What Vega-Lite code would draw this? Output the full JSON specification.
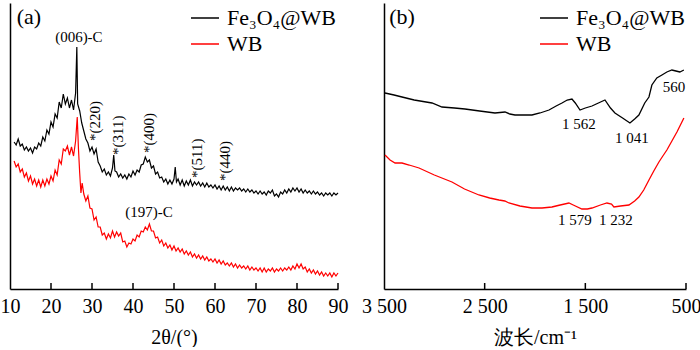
{
"$schema": "https://vega.github.io/schema/vega-lite/v6.json",
"background": "white",
"padding": {"left": 0, "top": 3, "right": 0, "bottom": 0},
"spacing": 46,
"bounds": "flush",
"config": {
  "view": {"stroke": null},
  "font": "Liberation Serif",
  "axis": {"domainColor": "black", "domainWidth": 1.5, "ticks": false, "labelFlush": false, "labelOverlap": false, "labelColor": "black", "titleColor": "black", "labelFont": "Liberation Serif", "titleFont": "Liberation Serif", "labelFontSize": 20, "titleFontSize": 20, "titleFontWeight": "normal", "grid": false},
  "legend": {"orient": "none", "symbolType": "stroke", "symbolSize": 784, "symbolStrokeWidth": 1.5, "labelFont": "Liberation Serif", "labelFontSize": 22, "labelColor": "black", "labelOffset": 7, "rowPadding": 0, "padding": 0, "title": null}
},
"resolve": {"scale": {"color": "independent"}, "legend": {"color": "independent"}},
"datasets": {
"xa_fe": [
{"t":11,"y":147},{"t":11.5,"y":144},{"t":12,"y":150},{"t":12.5,"y":143},{"t":13,"y":145},{"t":13.5,"y":139},{"t":14,"y":142},{"t":14.5,"y":138},{"t":15,"y":141},{"t":15.5,"y":136},{"t":16,"y":142},{"t":16.5,"y":140},{"t":17,"y":146},{"t":17.5,"y":143},{"t":18,"y":152},{"t":18.5,"y":148},{"t":19,"y":159},{"t":19.5,"y":155},{"t":20,"y":167},{"t":20.5,"y":162},{"t":21,"y":175},{"t":21.5,"y":171},{"t":22,"y":187},{"t":22.5,"y":181},{"t":23,"y":195},{"t":23.5,"y":185},{"t":24,"y":191},{"t":24.5,"y":181},{"t":25,"y":189},{"t":25.5,"y":179},{"t":26,"y":196},{"t":26.3,"y":242},{"t":26.5,"y":185},{"t":27,"y":178},{"t":27.5,"y":166},{"t":28,"y":158},{"t":28.5,"y":150},{"t":29,"y":146},{"t":29.5,"y":138},{"t":30,"y":142},{"t":30.5,"y":135},{"t":31,"y":140},{"t":31.5,"y":127},{"t":32,"y":123},{"t":32.5,"y":117},{"t":33,"y":120},{"t":33.5,"y":114},{"t":34,"y":117},{"t":34.5,"y":113},{"t":35,"y":121},{"t":35.3,"y":134},{"t":35.6,"y":118},{"t":36,"y":117},{"t":36.5,"y":112},{"t":37,"y":115},{"t":37.5,"y":111},{"t":38,"y":114},{"t":38.5,"y":110},{"t":39,"y":115},{"t":39.5,"y":112},{"t":40,"y":118},{"t":40.5,"y":114},{"t":41,"y":119},{"t":41.5,"y":117},{"t":42,"y":124},{"t":42.5,"y":125},{"t":43,"y":132},{"t":43.5,"y":127},{"t":44,"y":129},{"t":44.5,"y":121},{"t":45,"y":123},{"t":45.5,"y":115},{"t":46,"y":117},{"t":46.5,"y":111},{"t":47,"y":112},{"t":47.5,"y":107},{"t":48,"y":110},{"t":48.5,"y":105},{"t":49,"y":109},{"t":49.5,"y":105},{"t":50,"y":110},{"t":50.3,"y":122},{"t":50.6,"y":107},{"t":51,"y":110},{"t":51.5,"y":104},{"t":52,"y":109},{"t":52.5,"y":103},{"t":53,"y":108},{"t":53.5,"y":104},{"t":54,"y":109},{"t":54.5,"y":103},{"t":55,"y":107},{"t":55.5,"y":104},{"t":56,"y":107},{"t":56.5,"y":103},{"t":57,"y":106},{"t":57.5,"y":102},{"t":58,"y":106},{"t":58.5,"y":102},{"t":59,"y":104},{"t":59.5,"y":101},{"t":60,"y":104},{"t":60.5,"y":100},{"t":61,"y":103},{"t":61.5,"y":99},{"t":62,"y":103},{"t":62.5,"y":99},{"t":63,"y":102},{"t":63.5,"y":98},{"t":64,"y":102},{"t":64.5,"y":98},{"t":65,"y":101},{"t":65.5,"y":99},{"t":66,"y":101},{"t":66.5,"y":98},{"t":67,"y":100},{"t":67.5,"y":97},{"t":68,"y":100},{"t":68.5,"y":97},{"t":69,"y":99},{"t":69.5,"y":96},{"t":70,"y":98},{"t":70.5,"y":95},{"t":71,"y":98},{"t":71.5,"y":95},{"t":72,"y":97},{"t":72.5,"y":94},{"t":73,"y":98},{"t":73.5,"y":96},{"t":74,"y":99},{"t":74.5,"y":93},{"t":75,"y":95},{"t":75.5,"y":92},{"t":76,"y":97},{"t":76.5,"y":95},{"t":77,"y":99},{"t":77.5,"y":96},{"t":78,"y":100},{"t":78.5,"y":97},{"t":79,"y":101},{"t":79.5,"y":98},{"t":80,"y":101},{"t":80.5,"y":97},{"t":81,"y":100},{"t":81.5,"y":96},{"t":82,"y":99},{"t":82.5,"y":96},{"t":83,"y":98},{"t":83.5,"y":95},{"t":84,"y":98},{"t":84.5,"y":95},{"t":85,"y":97},{"t":85.5,"y":94},{"t":86,"y":96},{"t":86.5,"y":93},{"t":87,"y":96},{"t":87.5,"y":94},{"t":88,"y":96},{"t":88.5,"y":93},{"t":89,"y":96},{"t":89.5,"y":94},{"t":90,"y":96}
],
"xa_wb": [
{"t":11,"y":128},{"t":11.5,"y":122},{"t":12,"y":125},{"t":12.5,"y":117},{"t":13,"y":120},{"t":13.5,"y":112},{"t":14,"y":116},{"t":14.5,"y":108},{"t":15,"y":113},{"t":15.5,"y":105},{"t":16,"y":110},{"t":16.5,"y":103},{"t":17,"y":109},{"t":17.5,"y":102},{"t":18,"y":109},{"t":18.5,"y":103},{"t":19,"y":110},{"t":19.5,"y":105},{"t":20,"y":113},{"t":20.5,"y":108},{"t":21,"y":119},{"t":21.5,"y":114},{"t":22,"y":129},{"t":22.5,"y":125},{"t":23,"y":140},{"t":23.5,"y":138},{"t":24,"y":143},{"t":24.5,"y":134},{"t":25,"y":142},{"t":25.5,"y":133},{"t":26,"y":148},{"t":26.4,"y":172},{"t":26.7,"y":140},{"t":27,"y":116},{"t":27.3,"y":96},{"t":27.6,"y":106},{"t":28,"y":95},{"t":28.5,"y":88},{"t":29,"y":93},{"t":29.5,"y":81},{"t":30,"y":80},{"t":30.5,"y":69},{"t":31,"y":72},{"t":31.5,"y":62},{"t":32,"y":62},{"t":32.5,"y":54},{"t":33,"y":56},{"t":33.5,"y":50},{"t":34,"y":55},{"t":34.5,"y":51},{"t":35,"y":58},{"t":35.5,"y":52},{"t":36,"y":57},{"t":36.5,"y":53},{"t":37,"y":56},{"t":37.5,"y":47},{"t":38,"y":48},{"t":38.5,"y":42},{"t":39,"y":46},{"t":39.5,"y":45},{"t":40,"y":50},{"t":40.5,"y":48},{"t":41,"y":54},{"t":41.5,"y":52},{"t":42,"y":58},{"t":42.5,"y":57},{"t":43,"y":62},{"t":43.5,"y":59},{"t":44,"y":65},{"t":44.5,"y":58},{"t":45,"y":58},{"t":45.5,"y":51},{"t":46,"y":52},{"t":46.5,"y":46},{"t":47,"y":49},{"t":47.5,"y":43},{"t":48,"y":46},{"t":48.5,"y":41},{"t":49,"y":44},{"t":49.5,"y":39},{"t":50,"y":43},{"t":50.5,"y":38},{"t":51,"y":41},{"t":51.5,"y":37},{"t":52,"y":40},{"t":52.5,"y":35},{"t":53,"y":38},{"t":53.5,"y":34},{"t":54,"y":37},{"t":54.5,"y":32},{"t":55,"y":35},{"t":55.5,"y":31},{"t":56,"y":34},{"t":56.5,"y":30},{"t":57,"y":33},{"t":57.5,"y":29},{"t":58,"y":32},{"t":58.5,"y":28},{"t":59,"y":30},{"t":59.5,"y":27},{"t":60,"y":30},{"t":60.5,"y":26},{"t":61,"y":29},{"t":61.5,"y":25},{"t":62,"y":28},{"t":62.5,"y":24},{"t":63,"y":26},{"t":63.5,"y":23},{"t":64,"y":26},{"t":64.5,"y":22},{"t":65,"y":25},{"t":65.5,"y":21},{"t":66,"y":24},{"t":66.5,"y":21},{"t":67,"y":23},{"t":67.5,"y":20},{"t":68,"y":23},{"t":68.5,"y":19},{"t":69,"y":22},{"t":69.5,"y":19},{"t":70,"y":21},{"t":70.5,"y":18},{"t":71,"y":21},{"t":71.5,"y":17},{"t":72,"y":21},{"t":72.5,"y":17},{"t":73,"y":20},{"t":73.5,"y":18},{"t":74,"y":21},{"t":74.5,"y":17},{"t":75,"y":20},{"t":75.5,"y":18},{"t":76,"y":21},{"t":76.5,"y":18},{"t":77,"y":21},{"t":77.5,"y":19},{"t":78,"y":22},{"t":78.5,"y":19},{"t":79,"y":23},{"t":79.5,"y":20},{"t":80,"y":25},{"t":80.5,"y":21},{"t":81,"y":25},{"t":81.5,"y":20},{"t":82,"y":22},{"t":82.5,"y":17},{"t":83,"y":20},{"t":83.5,"y":16},{"t":84,"y":19},{"t":84.5,"y":15},{"t":85,"y":18},{"t":85.5,"y":14},{"t":86,"y":17},{"t":86.5,"y":13},{"t":87,"y":16},{"t":87.5,"y":13},{"t":88,"y":16},{"t":88.5,"y":12},{"t":89,"y":16},{"t":89.5,"y":13},{"t":90,"y":16}
],
"xa_ticks": [{"t":20,"y":3},{"t":30,"y":3},{"t":40,"y":3},{"t":50,"y":3},{"t":60,"y":3},{"t":70,"y":3},{"t":80,"y":3},{"t":90,"y":3}],
"xa_lab": [
{"t":14.6,"y":272,"label":"(a)","kind":"panel"},
{"t":26.8,"y":252,"label":"(006)-C","kind":"peak"},
{"t":43.9,"y":77,"label":"(197)-C","kind":"peak"}
],
"xa_rot": [
{"t":30.7,"y":148,"label":"*(220)"},
{"t":36.3,"y":134,"label":"*(311)"},
{"t":43.9,"y":136,"label":"*(400)"},
{"t":55.6,"y":111,"label":"*(511)"},
{"t":62.4,"y":108,"label":"*(440)"}
],
"ir_fe": [
{"w":3490,"y":196},{"w":3400,"y":194},{"w":3321,"y":192},{"w":3200,"y":189},{"w":3023,"y":186},{"w":2924,"y":182},{"w":2800,"y":181},{"w":2696,"y":180},{"w":2550,"y":178},{"w":2398,"y":176},{"w":2298,"y":177},{"w":2250,"y":175},{"w":2199,"y":174},{"w":2100,"y":174},{"w":2030,"y":174},{"w":1950,"y":176},{"w":1861,"y":179},{"w":1790,"y":183},{"w":1732,"y":186},{"w":1680,"y":189},{"w":1633,"y":190},{"w":1600,"y":186},{"w":1553,"y":179},{"w":1500,"y":181},{"w":1434,"y":183},{"w":1370,"y":186},{"w":1305,"y":189},{"w":1250,"y":181},{"w":1206,"y":176},{"w":1130,"y":171},{"w":1057,"y":166},{"w":1010,"y":170},{"w":968,"y":174},{"w":910,"y":186},{"w":868,"y":192},{"w":839,"y":204},{"w":790,"y":211},{"w":739,"y":214},{"w":690,"y":217},{"w":640,"y":219},{"w":600,"y":218},{"w":561,"y":217},{"w":521,"y":219}
],
"ir_wb": [
{"w":3490,"y":134},{"w":3440,"y":129},{"w":3390,"y":126},{"w":3321,"y":126},{"w":3250,"y":124},{"w":3152,"y":121},{"w":3000,"y":114},{"w":2825,"y":107},{"w":2700,"y":100},{"w":2557,"y":94},{"w":2450,"y":91},{"w":2358,"y":89},{"w":2300,"y":88},{"w":2259,"y":86},{"w":2150,"y":83},{"w":2030,"y":81},{"w":1930,"y":81},{"w":1832,"y":82},{"w":1750,"y":84},{"w":1663,"y":86},{"w":1620,"y":84},{"w":1534,"y":80},{"w":1480,"y":80},{"w":1434,"y":81},{"w":1350,"y":84},{"w":1285,"y":86},{"w":1240,"y":85},{"w":1216,"y":82},{"w":1150,"y":83},{"w":1067,"y":84},{"w":1010,"y":88},{"w":968,"y":92},{"w":920,"y":99},{"w":868,"y":109},{"w":820,"y":118},{"w":769,"y":127},{"w":730,"y":133},{"w":690,"y":139},{"w":640,"y":148},{"w":590,"y":157},{"w":521,"y":171}
],
"ir_ticks": [{"w":2500,"y":3},{"w":1500,"y":3},{"w":500,"y":3}],
"ir_panel": [
{"w":3321,"y":272,"label":"(b)"}
],
"ir_lab": [
{"w":1564,"y":165,"label":"1 562"},
{"w":1037,"y":151,"label":"1 041"},
{"w":620,"y":202,"label":"560"},
{"w":1603,"y":69,"label":"1 579"},
{"w":1196,"y":69,"label":"1 232"}
]
},
"hconcat": [
{
 "width": 328, "height": 286,
 "encoding": {
   "x": {"field": "t", "type": "quantitative", "scale": {"domain": [10, 90], "nice": false}, "axis": {"values": [10,20,30,40,50,60,70,80,90], "labelPadding": 7, "title": "2θ/(°)", "titleFont": "Liberation Serif", "titleFontSize": 20, "titlePadding": 11}},
   "y": {"field": "y", "type": "quantitative", "scale": {"domain": [0, 286], "nice": false}, "axis": {"labels": false, "title": null}}
 },
 "layer": [
  {"data": {"name": "xa_fe"}, "mark": {"type": "line", "strokeWidth": 1.2}, "encoding": {"color": {"datum": "Fe₃O₄@WB", "type": "nominal", "scale": {"domain": ["Fe₃O₄@WB", "WB"], "range": ["black", "red"]}, "legend": {"legendX": 180, "legendY": 0}}}},
  {"data": {"name": "xa_wb"}, "mark": {"type": "line", "strokeWidth": 1.2}, "encoding": {"color": {"datum": "WB", "type": "nominal"}}},
  {"data": {"name": "xa_ticks"}, "mark": {"type": "tick", "orient": "vertical", "color": "black", "size": 6, "thickness": 1.5, "opacity": 1}},
  {"data": {"name": "xa_lab"}, "transform": [{"filter": "datum.kind == 'panel'"}], "mark": {"type": "text", "fontSize": 22, "font": "Liberation Serif", "color": "black", "baseline": "middle"}, "encoding": {"text": {"field": "label"}}},
  {"data": {"name": "xa_lab"}, "transform": [{"filter": "datum.kind == 'peak'"}], "mark": {"type": "text", "fontSize": 15, "font": "Liberation Serif", "color": "black", "baseline": "middle"}, "encoding": {"text": {"field": "label"}}},
  {"data": {"name": "xa_rot"}, "mark": {"type": "text", "fontSize": 15, "font": "Liberation Serif", "color": "black", "angle": 270, "align": "left", "baseline": "middle"}, "encoding": {"text": {"field": "label"}}}
 ]
},
{
 "width": 302, "height": 286,
 "encoding": {
   "x": {"field": "w", "type": "quantitative", "scale": {"domain": [500, 3500], "reverse": true, "nice": false}, "axis": {"values": [3500,2500,1500,500], "labelExpr": "datum.value >= 1000 ? floor(datum.value/1000) + ' ' + format(datum.value % 1000, '03d') : format(datum.value, 'd')", "labelPadding": 7, "title": "波长/cm⁻¹", "titleFont": "Liberation Serif", "titleFontSize": 20, "titlePadding": 11}},
   "y": {"field": "y", "type": "quantitative", "scale": {"domain": [0, 286], "nice": false}, "axis": {"labels": false, "title": null}}
 },
 "layer": [
  {"data": {"name": "ir_fe"}, "mark": {"type": "line", "strokeWidth": 1.3}, "encoding": {"color": {"datum": "Fe₃O₄@WB", "type": "nominal", "scale": {"domain": ["Fe₃O₄@WB", "WB"], "range": ["black", "red"]}, "legend": {"legendX": 155, "legendY": 0}}}},
  {"data": {"name": "ir_wb"}, "mark": {"type": "line", "strokeWidth": 1.3}, "encoding": {"color": {"datum": "WB", "type": "nominal"}}},
  {"data": {"name": "ir_ticks"}, "mark": {"type": "tick", "orient": "vertical", "color": "black", "size": 6, "thickness": 1.5, "opacity": 1}},
  {"data": {"name": "ir_panel"}, "mark": {"type": "text", "fontSize": 22, "font": "Liberation Serif", "color": "black", "baseline": "middle"}, "encoding": {"text": {"field": "label"}}},
  {"data": {"name": "ir_lab"}, "mark": {"type": "text", "fontSize": 15, "font": "Liberation Serif", "color": "black", "baseline": "middle"}, "encoding": {"text": {"field": "label"}}}
 ]
}
]
}
